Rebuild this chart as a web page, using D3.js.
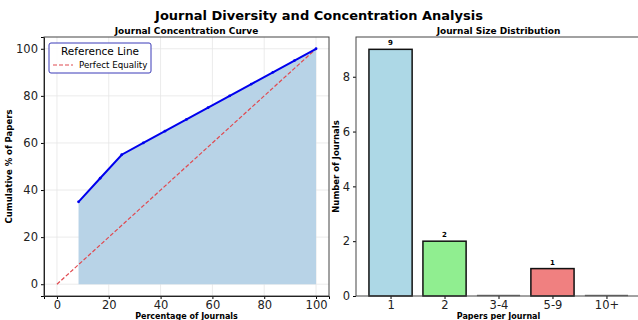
<!DOCTYPE html>
<html>
<head>
<meta charset="utf-8">
<script src="https://cdn.jsdelivr.net/npm/d3@7"></script>
<style>
  body { margin: 0; background: #fff; }
  text { font-family: "DejaVu Sans", sans-serif; }
</style>
</head>
<body>
<div class="chart"></div>
<script>
// concentration curve data
var journalPct = [8.33, 16.67, 25, 33.33, 41.67, 50, 58.33, 66.67, 75, 83.33, 91.67, 100];
var cumPapers = [35, 45, 55, 60, 65, 70, 75, 80, 85, 90, 95, 100];
var equalityX = [0, 100];

// size distribution data
var sizeBins = ['1', '2', '3-4', '5-9', '10+'];
var journalCounts = [9, 2, 0, 1, 0];
var binColors = ['#add8e6', '#90ee90', '#d3d3d3', '#f08080', '#d3d3d3'];

var svg = d3.select('.chart')
  .append('svg')
    .attr('width', 638)
    .attr('height', 320);

svg.append('text')
  .attr('x', 319).attr('y', 20)
  .attr('text-anchor', 'middle')
  .style('font-size', '13px').style('font-weight', 'bold')
  .text('Journal Diversity and Concentration Analysis');

// ---- left panel
var L = { left: 44, right: 329, top: 37, bottom: 296 };

var xScale = d3.scaleLinear().domain([-5, 105]).range([L.left, L.right]);
var yScale = d3.scaleLinear().domain([-5, 105]).range([L.bottom, L.top]);

var left = svg.append('g');

// grid
left.selectAll('.gx').data(xScale.ticks(5).filter(d => d >= 0 && d <= 100))
  .enter().append('line')
    .attr('x1', d => xScale(d)).attr('x2', d => xScale(d))
    .attr('y1', L.top).attr('y2', L.bottom)
    .style('stroke', '#e6e6e6').style('stroke-width', 0.8);
left.selectAll('.gy').data(yScale.ticks(5).filter(d => d >= 0 && d <= 100))
  .enter().append('line')
    .attr('x1', L.left).attr('x2', L.right)
    .attr('y1', d => yScale(d)).attr('y2', d => yScale(d))
    .style('stroke', '#e6e6e6').style('stroke-width', 0.8);

var pts = journalPct.map((x, i) => [x, cumPapers[i]]);

left.append('path')
  .datum(pts)
  .attr('d', d3.area().x(d => xScale(d[0])).y0(yScale(0)).y1(d => yScale(d[1])))
  .style('fill', '#b8d3e7');

left.append('path')
  .datum(equalityX)
  .attr('d', d3.line().x(d => xScale(d)).y(d => yScale(d)))
  .style('fill', 'none')
  .style('stroke', '#e04a50')
  .style('stroke-width', 1.2)
  .style('stroke-dasharray', '4,2');

left.append('path')
  .datum(pts)
  .attr('d', d3.line().x(d => xScale(d[0])).y(d => yScale(d[1])))
  .style('fill', 'none')
  .style('stroke', '#0000ee')
  .style('stroke-width', 2);

left.selectAll('.dot').data(pts)
  .enter().append('circle')
    .attr('cx', d => xScale(d[0])).attr('cy', d => yScale(d[1]))
    .attr('r', 1.4)
    .style('fill', '#0000ee');

left.append('g')
  .attr('transform', `translate(0, ${L.bottom})`)
  .call(d3.axisBottom(xScale).tickValues([0, 20, 40, 60, 80, 100]).tickSizeOuter(0).tickSize(3).tickPadding(2))
  .call(g => g.selectAll('text').style('font-size', '11.5px').style('fill', '#222'));

left.append('g')
  .attr('transform', `translate(${L.left}, 0)`)
  .call(d3.axisLeft(yScale).tickValues([0, 20, 40, 60, 80, 100]).tickSizeOuter(0).tickSize(3).tickPadding(3))
  .call(g => g.selectAll('text').style('font-size', '11.5px').style('fill', '#222'));

left.append('rect')
  .attr('x', L.left).attr('y', L.top)
  .attr('width', L.right - L.left).attr('height', L.bottom - L.top)
  .style('fill', 'none').style('stroke', '#444').style('stroke-width', 1);

left.append('text')
  .attr('x', (L.left + L.right) / 2).attr('y', 34)
  .attr('text-anchor', 'middle')
  .style('font-size', '9px').style('font-weight', 'bold')
  .text('Journal Concentration Curve');

left.append('text')
  .attr('x', (L.left + L.right) / 2).attr('y', 319)
  .attr('text-anchor', 'middle')
  .style('font-size', '8px').style('font-weight', 'bold')
  .text('Percentage of Journals');

left.append('text')
  .attr('transform', `translate(12, ${(L.top + L.bottom) / 2}) rotate(-90)`)
  .attr('text-anchor', 'middle')
  .style('font-size', '8.5px').style('font-weight', 'bold')
  .text('Cumulative % of Papers');

// legend
var leg = left.append('g').attr('transform', 'translate(49, 43)');
leg.append('rect')
  .attr('width', 102).attr('height', 30).attr('rx', 2)
  .style('fill', 'rgba(255,255,255,0.9)')
  .style('stroke', '#3b3bb8').style('stroke-width', 1);
leg.append('text')
  .attr('x', 51).attr('y', 12)
  .attr('text-anchor', 'middle')
  .style('font-size', '10.5px')
  .text('Reference Line');
leg.append('line')
  .attr('x1', 4).attr('x2', 24).attr('y1', 22).attr('y2', 22)
  .style('stroke', '#e04a50').style('stroke-width', 1.2).style('stroke-dasharray', '4,2');
leg.append('text')
  .attr('x', 30).attr('y', 25)
  .style('font-size', '8.7px')
  .text('Perfect Equality');

// ---- right panel
var R = { left: 356, right: 641, top: 37, bottom: 296 };

var xBand = d3.scaleLinear().domain([-0.64, 4.64]).range([R.left, R.right]);
var yCount = d3.scaleLinear().domain([0, 9.45]).range([R.bottom, R.top]);

var right = svg.append('g');

right.selectAll('.bar').data(sizeBins.filter((d, i) => journalCounts[i] > 0))
  .enter().append('rect')
    .attr('x', d => xBand(sizeBins.indexOf(d) - 0.4))
    .attr('width', xBand(0.4) - xBand(-0.4))
    .attr('y', d => yCount(journalCounts[sizeBins.indexOf(d)]))
    .attr('height', d => yCount(0) - yCount(journalCounts[sizeBins.indexOf(d)]))
    .style('fill', d => binColors[sizeBins.indexOf(d)])
    .style('stroke', '#111')
    .style('stroke-width', 1.5);

// empty bins show only their flattened outline
right.selectAll('.empty').data(sizeBins.filter((d, i) => journalCounts[i] === 0))
  .enter().append('line')
    .attr('x1', d => xBand(sizeBins.indexOf(d) - 0.4))
    .attr('x2', d => xBand(sizeBins.indexOf(d) + 0.4))
    .attr('y1', yCount(0) - 0.5).attr('y2', yCount(0) - 0.5)
    .style('stroke', '#777').style('stroke-width', 1.5);

right.selectAll('.lbl').data(sizeBins.filter((d, i) => journalCounts[i] > 0))
  .enter().append('text')
    .attr('x', d => xBand(sizeBins.indexOf(d)))
    .attr('y', d => yCount(journalCounts[sizeBins.indexOf(d)]) - 4)
    .attr('text-anchor', 'middle')
    .style('font-size', '7px').style('font-weight', 'bold')
    .text(d => journalCounts[sizeBins.indexOf(d)]);

right.append('g')
  .attr('transform', `translate(0, ${R.bottom})`)
  .call(d3.axisBottom(xBand).tickValues(d3.range(sizeBins.length)).tickFormat(i => sizeBins[i]).tickSizeOuter(0).tickSize(3).tickPadding(2))
  .call(g => g.select('.domain').remove())
  .call(g => g.selectAll('text').style('font-size', '11.5px').style('fill', '#222'));

right.append('g')
  .attr('transform', `translate(${R.left}, 0)`)
  .call(d3.axisLeft(yCount).tickValues([0, 2, 4, 6, 8]).tickSizeOuter(0).tickSize(3).tickPadding(3))
  .call(g => g.select('.domain').remove())
  .call(g => g.selectAll('text').style('font-size', '11.5px').style('fill', '#222'));

right.append('rect')
  .attr('x', R.left).attr('y', R.top)
  .attr('width', R.right - R.left).attr('height', R.bottom - R.top)
  .style('fill', 'none').style('stroke', '#444').style('stroke-width', 1);

right.append('text')
  .attr('x', (R.left + R.right) / 2).attr('y', 34)
  .attr('text-anchor', 'middle')
  .style('font-size', '9px').style('font-weight', 'bold')
  .text('Journal Size Distribution');

right.append('text')
  .attr('x', (R.left + R.right) / 2).attr('y', 319)
  .attr('text-anchor', 'middle')
  .style('font-size', '8px').style('font-weight', 'bold')
  .text('Papers per Journal');

right.append('text')
  .attr('transform', `translate(339, ${(R.top + R.bottom) / 2}) rotate(-90)`)
  .attr('text-anchor', 'middle')
  .style('font-size', '8.5px').style('font-weight', 'bold')
  .text('Number of Journals');
</script>
</body>
</html>
